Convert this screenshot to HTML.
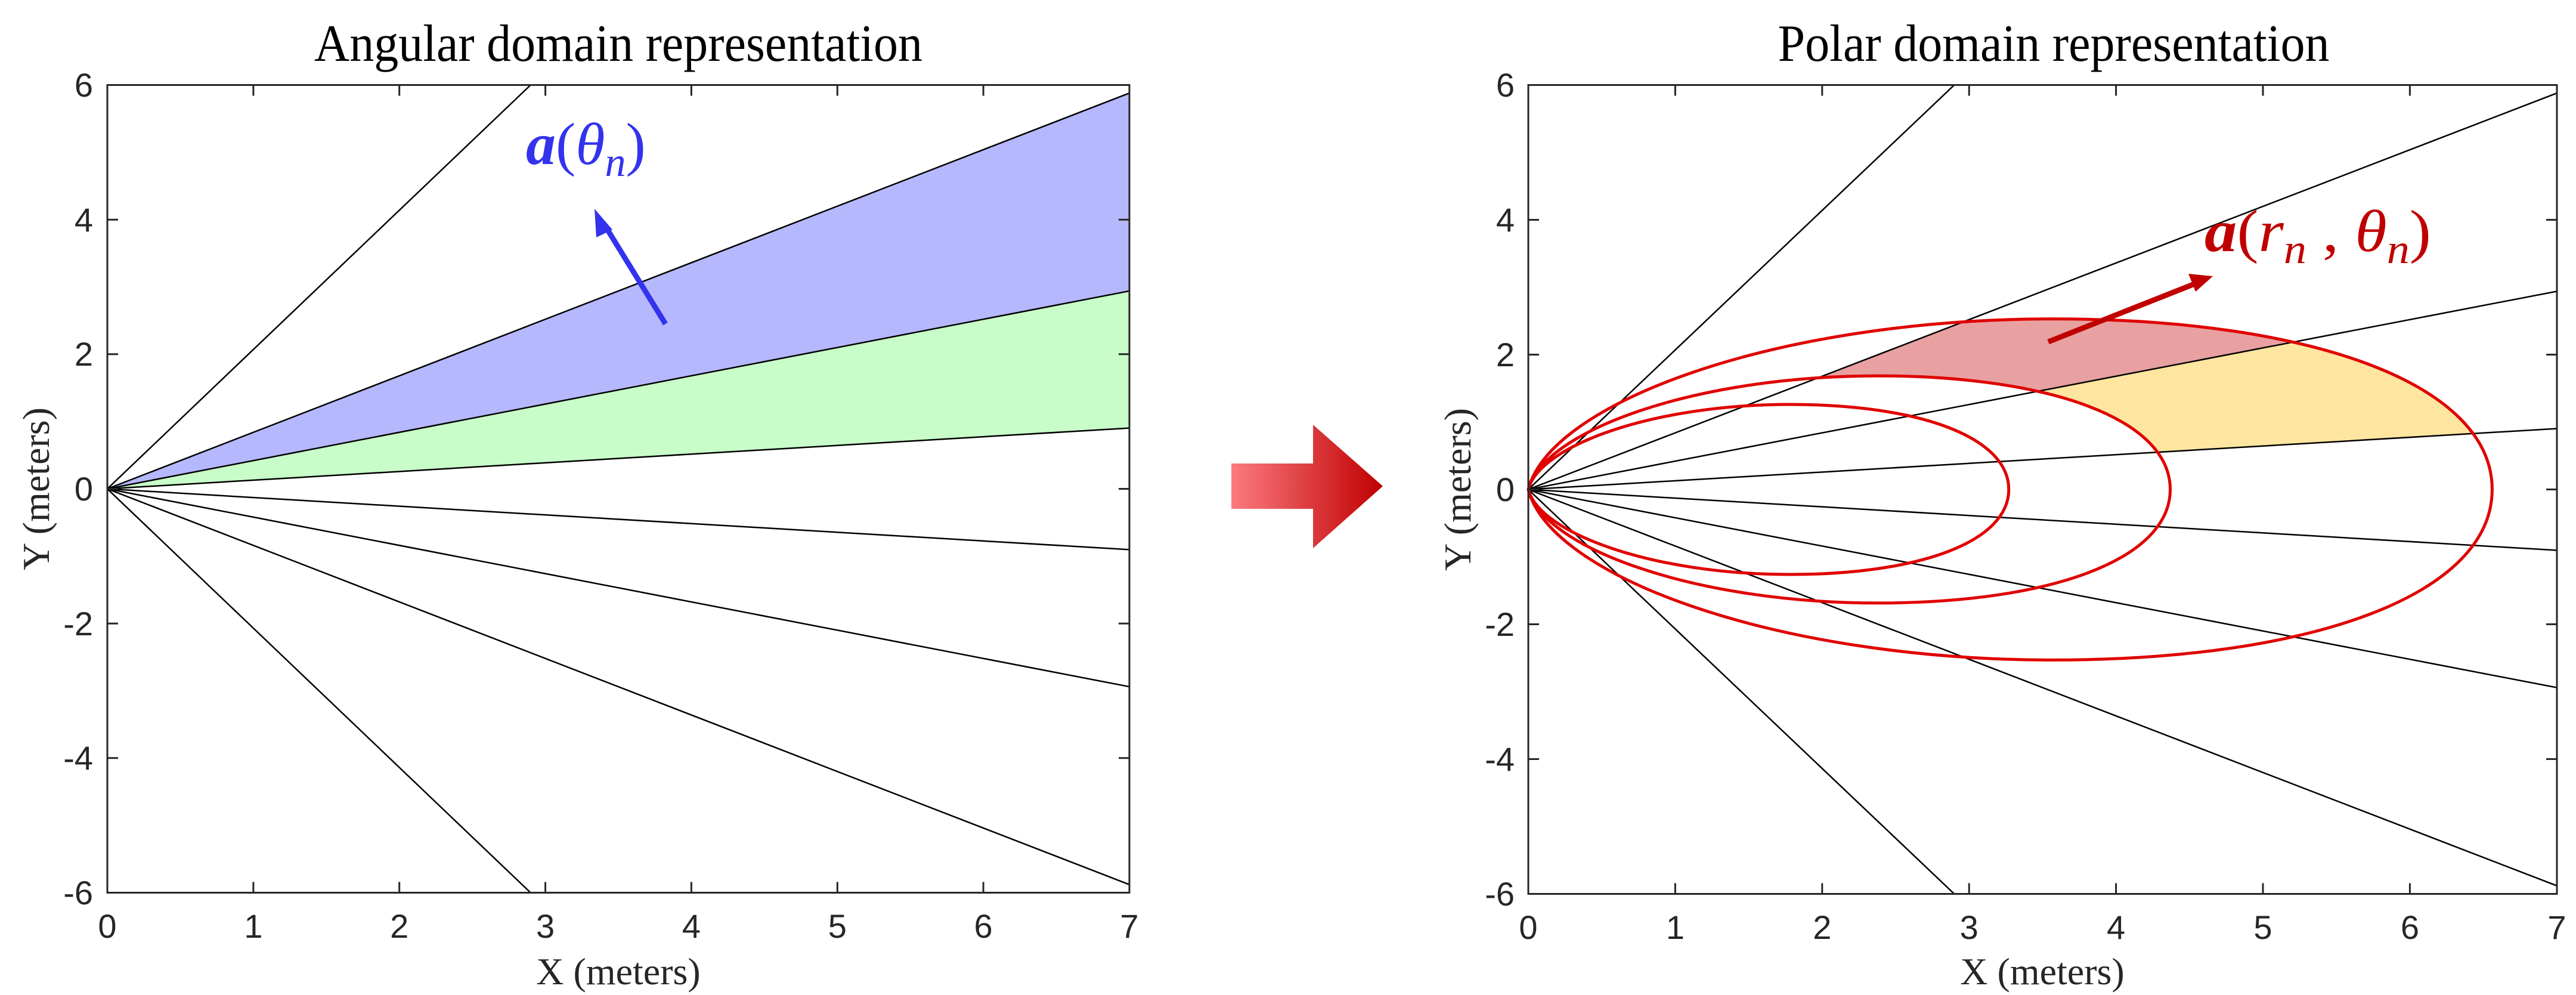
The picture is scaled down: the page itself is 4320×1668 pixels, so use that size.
<!DOCTYPE html>
<html><head><meta charset="utf-8"><style>
html,body{margin:0;padding:0;background:#fff;width:4320px;height:1668px;overflow:hidden}
svg{display:block}
.tk{font-family:"Liberation Sans",sans-serif;font-size:56px;fill:#262626}
.ttl{font-family:"Liberation Serif",serif;font-size:88px;fill:#000}
.lab{font-family:"Liberation Serif",serif;font-size:64px;fill:#262626}
</style></head><body>
<svg width="4320" height="1668" viewBox="0 0 4320 1668" xmlns="http://www.w3.org/2000/svg">
<defs>
<linearGradient id="ag" x1="0" x2="1" y1="0" y2="0">
<stop offset="0" stop-color="#fb7b80"/><stop offset="1" stop-color="#c00000"/></linearGradient>
<clipPath id="rc"><rect x="2563" y="142.5" width="1725" height="1356"/></clipPath>
<clipPath id="wRed"><polygon points="0,0 7,5.88 7,2.94"/></clipPath>
<clipPath id="wYel"><polygon points="0,0 7,2.94 7,0.903"/></clipPath>
</defs>
<!-- LEFT PLOT -->
<polygon points="180,819.5 1894,156.1 1894,487.8" fill="#b6b8fd"/>
<polygon points="180,819.5 1894,487.8 1894,717.6" fill="#c8fcc8"/>
<g stroke="#000" stroke-width="2.5" fill="none">
<line x1="180" y1="819.5" x2="889.8" y2="142.5"/>
<line x1="180" y1="819.5" x2="1894" y2="156.1"/>
<line x1="180" y1="819.5" x2="1894" y2="487.8"/>
<line x1="180" y1="819.5" x2="1894" y2="717.6"/>
<line x1="180" y1="819.5" x2="1894" y2="921.4"/>
<line x1="180" y1="819.5" x2="1894" y2="1151.2"/>
<line x1="180" y1="819.5" x2="1894" y2="1482.9"/>
<line x1="180" y1="819.5" x2="889.8" y2="1496.5"/>
</g>
<g stroke="#262626" stroke-width="3">
<rect x="180" y="142.5" width="1714" height="1354" fill="none"/>
<path d="M424.9,1496.5v-18M669.7,1496.5v-18M914.6,1496.5v-18M1159.4,1496.5v-18M1404.3,1496.5v-18M1649.1,1496.5v-18
M424.9,142.5v18M669.7,142.5v18M914.6,142.5v18M1159.4,142.5v18M1404.3,142.5v18M1649.1,142.5v18
M180,368.2h18M180,593.8h18M180,819.5h18M180,1045.2h18M180,1270.8h18
M1894,368.2h-18M1894,593.8h-18M1894,819.5h-18M1894,1045.2h-18M1894,1270.8h-18"/>
</g>
<g class="tk" text-anchor="end">
<text x="156" y="162">6</text><text x="156" y="388">4</text><text x="156" y="613">2</text>
<text x="156" y="839">0</text><text x="156" y="1065">-2</text><text x="156" y="1290">-4</text><text x="156" y="1516">-6</text>
</g>
<g class="tk" text-anchor="middle">
<text x="180" y="1572">0</text><text x="424.9" y="1572">1</text><text x="669.7" y="1572">2</text><text x="914.6" y="1572">3</text>
<text x="1159.4" y="1572">4</text><text x="1404.3" y="1572">5</text><text x="1649.1" y="1572">6</text><text x="1894" y="1572">7</text>
</g>
<text class="ttl" x="1037" y="102" text-anchor="middle" textLength="1020" lengthAdjust="spacingAndGlyphs">Angular domain representation</text>
<text class="lab" x="1037" y="1650" text-anchor="middle">X (meters)</text>
<text class="lab" transform="translate(82,819.5) rotate(-90)" text-anchor="middle">Y (meters)</text>
<!-- blue arrow -->
<line x1="1116" y1="543" x2="1012" y2="374" stroke="#3333ee" stroke-width="9"/>
<polygon points="997,350 1027,385 1000,398" fill="#3333ee"/>
<text x="882" y="275" font-family="Liberation Serif,serif" font-size="100" fill="#3333ee" font-style="italic"><tspan font-weight="bold">a</tspan><tspan font-style="normal">(</tspan>θ<tspan font-size="70" dy="20">n</tspan><tspan font-style="normal" dy="-20">)</tspan></text>

<!-- ARROW -->
<polygon points="2065,777 2202,777 2202,712 2319,815 2202,919 2202,853 2065,853" fill="url(#ag)"/>

<!-- RIGHT PLOT: data coords group -->
<g transform="translate(2563,820.5) scale(246.4,-113)">
<g fill-rule="evenodd">
<path clip-path="url(#wRed)" fill="#e8a0a0" d="M0,0 C0.15,1.3 1.7,2.53 3.57,2.53 C5.35,2.53 6.56,1.55 6.56,0 C6.56,-1.55 5.35,-2.53 3.57,-2.53 C1.7,-2.53 0.15,-1.3 0,0Z M0,0 C0.1,0.866 1.132,1.685 2.378,1.685 C3.563,1.685 4.369,1.032 4.369,0 C4.369,-1.032 3.563,-1.685 2.378,-1.685 C1.132,-1.685 0.1,-0.866 0,0Z"/>
<path clip-path="url(#wYel)" fill="#fee5a0" d="M0,0 C0.15,1.3 1.7,2.53 3.57,2.53 C5.35,2.53 6.56,1.55 6.56,0 C6.56,-1.55 5.35,-2.53 3.57,-2.53 C1.7,-2.53 0.15,-1.3 0,0Z M0,0 C0.1,0.866 1.132,1.685 2.378,1.685 C3.563,1.685 4.369,1.032 4.369,0 C4.369,-1.032 3.563,-1.685 2.378,-1.685 C1.132,-1.685 0.1,-0.866 0,0Z"/>
</g>
</g>
<g stroke="#000" stroke-width="2.5" fill="none" clip-path="url(#rc)">
<line x1="2563" y1="820.5" x2="3277.3" y2="142.5"/>
<line x1="2563" y1="820.5" x2="4288" y2="156.1"/>
<line x1="2563" y1="820.5" x2="4288" y2="488.3"/>
<line x1="2563" y1="820.5" x2="4288" y2="718.5"/>
<line x1="2563" y1="820.5" x2="4288" y2="922.5"/>
<line x1="2563" y1="820.5" x2="4288" y2="1152.7"/>
<line x1="2563" y1="820.5" x2="4288" y2="1484.9"/>
<line x1="2563" y1="820.5" x2="3277.3" y2="1498.5"/>
</g>
<g transform="translate(2563,820.5) scale(246.4,-113)" stroke="#e00000" stroke-width="5" fill="none">
<path vector-effect="non-scaling-stroke" d="M0,0 C0.15,1.3 1.7,2.53 3.57,2.53 C5.35,2.53 6.56,1.55 6.56,0 C6.56,-1.55 5.35,-2.53 3.57,-2.53 C1.7,-2.53 0.15,-1.3 0,0Z"/>
<path vector-effect="non-scaling-stroke" transform="scale(0.666)" d="M0,0 C0.15,1.3 1.7,2.53 3.57,2.53 C5.35,2.53 6.56,1.55 6.56,0 C6.56,-1.55 5.35,-2.53 3.57,-2.53 C1.7,-2.53 0.15,-1.3 0,0Z"/>
<path vector-effect="non-scaling-stroke" transform="scale(0.4985)" d="M0,0 C0.15,1.3 1.7,2.53 3.57,2.53 C5.35,2.53 6.56,1.55 6.56,0 C6.56,-1.55 5.35,-2.53 3.57,-2.53 C1.7,-2.53 0.15,-1.3 0,0Z"/>
</g>
<g stroke="#262626" stroke-width="3">
<rect x="2563" y="142.5" width="1725" height="1356" fill="none"/>
<path d="M2809.4,1498.5v-18M3055.8,1498.5v-18M3302.2,1498.5v-18M3548.6,1498.5v-18M3795,1498.5v-18M4041.4,1498.5v-18
M2809.4,142.5v18M3055.8,142.5v18M3302.2,142.5v18M3548.6,142.5v18M3795,142.5v18M4041.4,142.5v18
M2563,368.5h18M2563,594.5h18M2563,820.5h18M2563,1046.5h18M2563,1272.5h18
M4288,368.5h-18M4288,594.5h-18M4288,820.5h-18M4288,1046.5h-18M4288,1272.5h-18"/>
</g>
<g class="tk" text-anchor="end">
<text x="2540" y="162">6</text><text x="2540" y="388">4</text><text x="2540" y="614">2</text>
<text x="2540" y="840">0</text><text x="2540" y="1066">-2</text><text x="2540" y="1292">-4</text><text x="2540" y="1518">-6</text>
</g>
<g class="tk" text-anchor="middle">
<text x="2563" y="1574">0</text><text x="2809.4" y="1574">1</text><text x="3055.8" y="1574">2</text><text x="3302.2" y="1574">3</text>
<text x="3548.6" y="1574">4</text><text x="3795" y="1574">5</text><text x="4041.4" y="1574">6</text><text x="4288" y="1574">7</text>
</g>
<text class="ttl" x="3444" y="102" text-anchor="middle" textLength="925" lengthAdjust="spacingAndGlyphs">Polar domain representation</text>
<text class="lab" x="3425" y="1650" text-anchor="middle">X (meters)</text>
<text class="lab" transform="translate(2466,820.5) rotate(-90)" text-anchor="middle">Y (meters)</text>
<!-- red arrow -->
<line x1="3435" y1="573" x2="3685" y2="474" stroke="#c00000" stroke-width="9"/>
<polygon points="3711,463 3670,459 3682,489" fill="#c00000"/>
<text x="3697" y="421" font-family="Liberation Serif,serif" font-size="100" fill="#c00000" font-style="italic" textLength="380" lengthAdjust="spacingAndGlyphs"><tspan font-weight="bold">a</tspan><tspan font-style="normal">(</tspan>r<tspan font-size="70" dy="20">n</tspan><tspan dy="-20" font-style="normal"> , </tspan>θ<tspan font-size="70" dy="20">n</tspan><tspan font-style="normal" dy="-20">)</tspan></text>
</svg>
</body></html>
